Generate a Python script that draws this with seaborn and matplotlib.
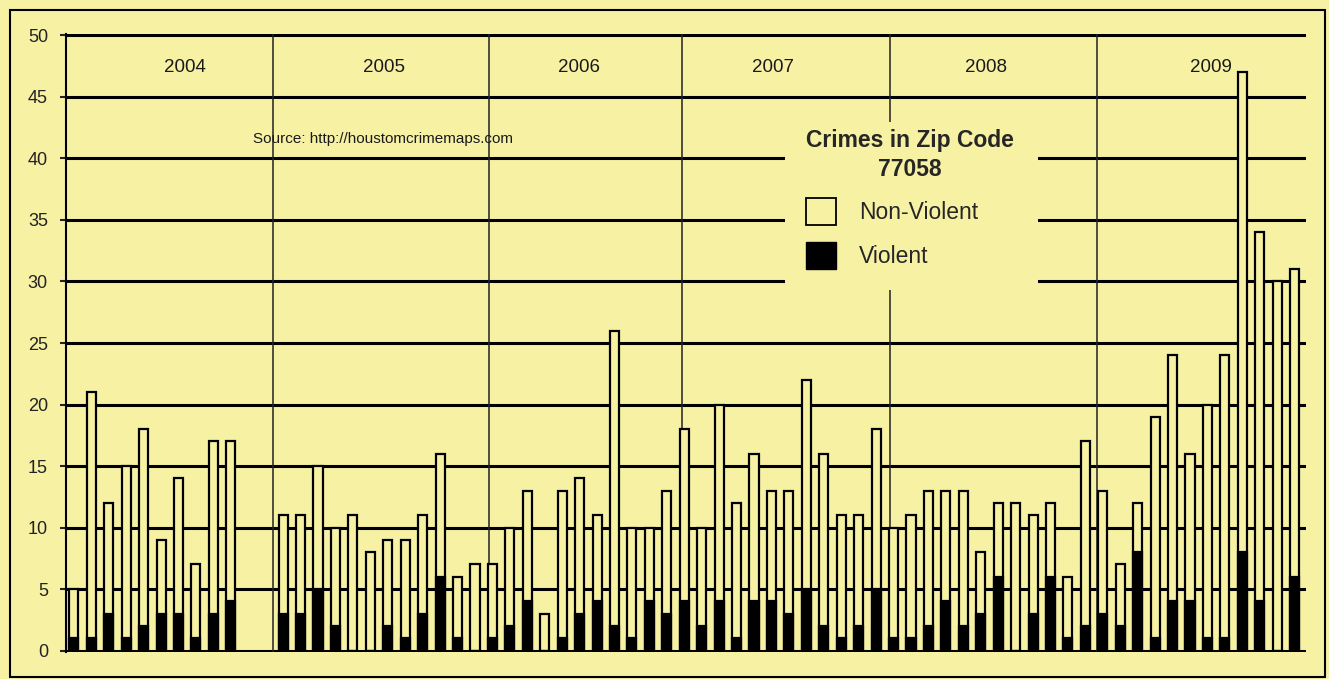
import seaborn as sns
import pandas as pd
import matplotlib.pyplot as plt
from matplotlib.patches import Patch, Rectangle

sns.set_theme(style="ticks")
plt.rcParams['font.family'] = ['Liberation Sans', 'DejaVu Sans']

# monthly crime counts, Jan 2004 - Nov 2009 (Nov/Dec 2004 missing)
years = [2004, 2005, 2006, 2007, 2008, 2009]
month_names = ['Jan', 'Feb', 'Mar', 'Apr', 'May', 'Jun',
               'Jul', 'Aug', 'Sep', 'Oct', 'Nov', 'Dec']
total_counts = [
    5, 21, 12, 15, 18, 9, 14, 7, 17, 17, None, None,   # 2004
    11, 11, 15, 10, 11, 8, 9, 9, 11, 16, 6, 7,         # 2005
    7, 10, 13, 3, 13, 14, 11, 26, 10, 10, 13, 18,      # 2006
    10, 20, 12, 16, 13, 13, 22, 16, 11, 11, 18, 10,    # 2007
    11, 13, 13, 13, 8, 12, 12, 11, 12, 6, 17, 13,      # 2008
    7, 12, 19, 24, 16, 20, 24, 47, 34, 30, 31,         # 2009
]
violent_counts = [
    1, 1, 3, 1, 2, 3, 3, 1, 3, 4, None, None,
    3, 3, 5, 2, 0, 0, 2, 1, 3, 6, 1, 0,
    1, 2, 4, 0, 1, 3, 4, 2, 1, 4, 3, 4,
    2, 4, 1, 4, 4, 3, 5, 2, 1, 2, 5, 1,
    1, 2, 4, 2, 3, 6, 0, 3, 6, 1, 2, 3,
    2, 8, 1, 4, 4, 1, 1, 8, 4, 0, 6,
]
yticks = [0, 5, 10, 15, 20, 25, 30, 35, 40, 45, 50]

months = ['%s %d' % (m, y) for y in years for m in month_names][:len(total_counts)]
df = pd.DataFrame({'month': months, 'total': total_counts, 'violent': violent_counts})
df = df.dropna()

# layout (hand placed in the original)
bg = '#F7F1A4'
divider_x = [11.44, 23.8, 34.86, 46.8, 58.65]
year_label_x = [6.35, 17.8, 28.96, 40.1, 52.3, 65.2]
W, H = 1329, 679

fig = plt.figure(figsize=(13.29, 6.79), dpi=100, facecolor=bg)
ax = fig.add_axes([66/W, 1-652/H, (1306-66)/W, (652-34)/H])
ax.set_facecolor(bg)

sns.barplot(data=df, x='month', y='total', order=months, color=bg, saturation=1,
            edgecolor='black', linewidth=1.6, width=0.52, errorbar=None, ax=ax, zorder=2)
sns.barplot(data=df, x='month', y='violent', order=months, color='black', saturation=1,
            edgecolor='black', linewidth=1.6, width=0.52, errorbar=None, ax=ax, zorder=3)

ax.set_xlim(-0.45, 70.65)
ax.set_ylim(-0.12, 50.12)
ax.set_yticks(yticks)
ax.set_xticks([])
ax.set_xlabel('')
ax.set_ylabel('')
ax.set_axisbelow(True)
ax.yaxis.grid(True, color='black', linewidth=2.2)
ax.tick_params(axis='y', length=4, width=1.5, pad=9, labelsize=13, colors='#222222')
for s in ['top', 'right', 'bottom']:
    ax.spines[s].set_visible(False)
ax.spines['left'].set_linewidth(1.5)
ax.spines['left'].set_color('black')

for x in divider_x:
    ax.axvline(x, color='#222222', linewidth=1.1, zorder=1)
for x, y in zip(year_label_x, years):
    ax.text(x, 47.4, str(y), ha='center', va='center', fontsize=13.5, color='#1a1a1a')

ax.text(10.3, 41.6, 'Source: http://houstomcrimemaps.com', ha='left', va='center',
        fontsize=11, color='#1a1a1a')

# plain patch behind the legend, it hides the grid there
ax.add_patch(Rectangle((785/W, 1-290/H), 253/W, 168/H, transform=fig.transFigure,
                       facecolor=bg, edgecolor='none', zorder=1.5, clip_on=False))

handles = [Patch(facecolor=bg, edgecolor='black', linewidth=1.3, label='Non-Violent'),
           Patch(facecolor='black', edgecolor='black', label='Violent')]
leg = ax.legend(handles=handles, title='Crimes in Zip Code\n77058', loc='upper left',
                bbox_to_anchor=(806/W, 1-129/H), bbox_transform=fig.transFigure,
                prop={'family': 'Liberation Sans', 'size': 16.5},
                title_fontproperties={'family': 'Liberation Sans', 'weight': 'bold', 'size': 16.5},
                frameon=False, alignment='left',
                handlelength=1.3, handleheight=1.45, labelspacing=0.72, handletextpad=1.0,
                borderpad=0, borderaxespad=0)
leg.get_title().set_multialignment('center')
leg.get_title().set_linespacing(1.35)
leg.set_zorder(5)

# border round the whole chart
fig.add_artist(Rectangle((10/W, 2/H), 1315/W, 667/H, transform=fig.transFigure,
                         fill=False, edgecolor='black', linewidth=1.5))

plt.savefig('out.png', dpi=100, facecolor=bg)
